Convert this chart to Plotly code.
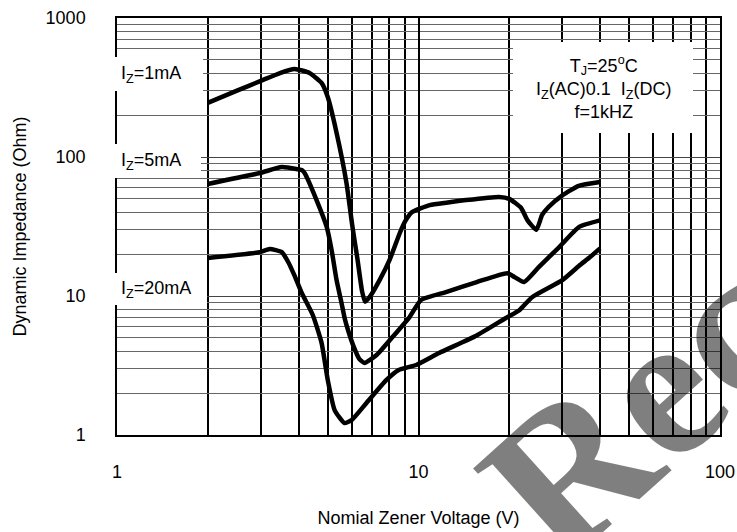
import plotly.graph_objects as go

# ---- data ----
v_1mA = [2.0, 2.5, 3.0, 3.47, 3.88, 4.35, 4.77, 5.0, 5.35, 5.77, 6.04, 6.28, 6.5, 6.65, 6.88,
         7.43, 8.02, 8.67, 9.0, 9.5, 10.9, 12.5, 14.4, 18.5, 20.0, 21.9, 23.0, 24.6, 25.7, 27.0,
         30.0, 34.0, 40.0]
z_1mA = [245, 300, 353, 402, 430, 402, 341, 270, 149, 65, 31.4, 18.2, 10.8, 9.1, 9.8,
         13.0, 18.2, 28.4, 34, 40, 45, 47, 49, 51.6, 50, 43, 35, 29.9, 38.3, 43.7,
         53, 62, 66]

v_5mA = [2.0, 2.98, 3.52, 4.0, 4.1, 4.19, 4.59, 4.96, 5.15, 5.35, 5.55, 5.7, 5.85, 6.1, 6.35,
         6.62, 7.26, 8.2, 9.34, 10.2, 12.4, 15.6, 19.7, 20.8, 22.4, 25.1, 29.3, 34.1, 40.0]
z_5mA = [64, 76.7, 84.7, 81.5, 80.6, 76.7, 49, 31.4, 21.4, 13, 9.0, 6.8, 5.6, 4.3, 3.55,
         3.3, 3.76, 5.07, 7.06, 9.36, 10.7, 12.6, 14.6, 13.7, 12.6, 16.2, 22.5, 31.4, 35]

v_20mA = [2.0, 2.98, 3.21, 3.52, 3.7, 3.88, 4.1, 4.46, 4.77, 5.0, 5.27, 5.68, 6.0, 6.72, 7.83,
          8.6, 9.83, 11.7, 15.6, 19.5, 21.6, 23.8, 30.0, 34.1, 37.0, 40.0]
z_20mA = [18.8, 20.7, 21.8, 20.7, 17.5, 14, 10.5, 7.3, 4.6, 2.49, 1.51, 1.22, 1.28, 1.7, 2.49,
          2.94, 3.19, 3.89, 5.2, 6.95, 7.9, 9.8, 13, 16.5, 19, 22]

series_labels = ["I<sub>Z</sub>=1mA", "I<sub>Z</sub>=5mA", "I<sub>Z</sub>=20mA"]

x_tickvals = [1, 10, 100]
x_ticktext = ["1", "10", "100"]
x_minor = [2, 3, 4, 5, 6, 7, 8, 9, 20, 30, 40, 50, 60, 70, 80, 90]
y_tickvals = [1, 10, 100, 1000]
y_ticktext = ["1", "10", "100", "1000"]
y_minor = [2, 3, 4, 5, 6, 7, 8, 9, 20, 30, 40, 50, 60, 70, 80, 90,
           200, 300, 400, 500, 600, 700, 800, 900]

cond_text = ("T<sub>J</sub>=25<sup>o</sup>C<br>"
             "I<sub>Z</sub>(AC)0.1&nbsp; I<sub>Z</sub>(DC)<br>"
             "f=1kHZ")

FONT = "Liberation Sans, Arial, sans-serif"

fig = go.Figure()
for v, z in [(v_1mA, z_1mA), (v_5mA, z_5mA), (v_20mA, z_20mA)]:
    fig.add_trace(go.Scatter(
        x=v, y=z, mode="lines",
        line=dict(color="black", width=4.5, shape="spline", smoothing=0.5),
        showlegend=False, hoverinfo="skip"))

fig.update_layout(
    width=737, height=532, autosize=False,
    margin=dict(l=117, r=17, t=18, b=97),
    paper_bgcolor="white", plot_bgcolor="white",
    font=dict(family=FONT, size=18, color="black"),
    showlegend=False,
)

fig.update_xaxes(
    type="log", range=[0, 2], automargin=False,
    tickmode="array", tickvals=x_tickvals, ticktext=x_ticktext,
    ticks="", ticklabelstandoff=20,
    showgrid=True, gridcolor="black", gridwidth=1.5,
    minor=dict(tickmode="array", tickvals=x_minor, showgrid=True,
               gridcolor="black", gridwidth=1.5, ticks=""),
    showline=True, linecolor="black", linewidth=1.5, mirror=True,
    zeroline=False,
    tickfont=dict(size=18),
    title=dict(text="Nomial Zener Voltage (V)", font=dict(size=18), standoff=30),
)
fig.update_yaxes(
    type="log", range=[0, 3], automargin=False,
    tickmode="array", tickvals=y_tickvals, ticktext=y_ticktext,
    ticks="", ticklabelstandoff=26,
    showgrid=True, gridcolor="#444", gridwidth=1,
    minor=dict(tickmode="array", tickvals=y_minor, showgrid=True,
               gridcolor="#666", gridwidth=1, ticks=""),
    showline=True, linecolor="black", linewidth=1.5, mirror=True,
    zeroline=False,
    tickfont=dict(size=18),
    title=dict(text="Dynamic Impedance (Ohm)", font=dict(size=18), standoff=14),
)

def px_x(p):
    return (p - 117) / 603.0

def px_y(p):
    return (435 - p) / 417.0

# white label backgrounds (cover grid and frame)
boxes = [(100, 203, 57, 91), (100, 201, 144, 178), (100, 207, 273, 305), (513, 693, 42, 133)]
for x0, x1, y0, y1 in boxes:
    fig.add_shape(type="rect", xref="paper", yref="paper",
                  x0=px_x(x0), x1=px_x(x1), y0=px_y(y1), y1=px_y(y0),
                  fillcolor="white", line=dict(width=0), layer="above")

label_y = [74, 161, 289]
for txt, yy in zip(series_labels, label_y):
    fig.add_annotation(text=txt, xref="paper", yref="paper", x=px_x(119), y=px_y(yy),
                       xanchor="left", yanchor="middle", showarrow=False,
                       font=dict(size=18, family=FONT))

fig.add_annotation(text=cond_text, xref="paper", yref="paper", x=px_x(603), y=px_y(88),
                   xanchor="center", yanchor="middle", align="center", showarrow=False,
                   font=dict(size=18, family=FONT))

# watermark
fig.add_annotation(text="Rec", xref="paper", yref="paper", x=px_x(636), y=px_y(408),
                   xanchor="center", yanchor="middle", showarrow=False, textangle=-42,
                   font=dict(size=205, family="Liberation Serif, Times New Roman, serif",
                             color="rgba(0,0,0,0.5)", weight="bold"))

fig.write_html("out.html", config={"displayModeBar": False},
               post_script="document.body.style.margin='0';document.body.style.overflow='hidden';")
